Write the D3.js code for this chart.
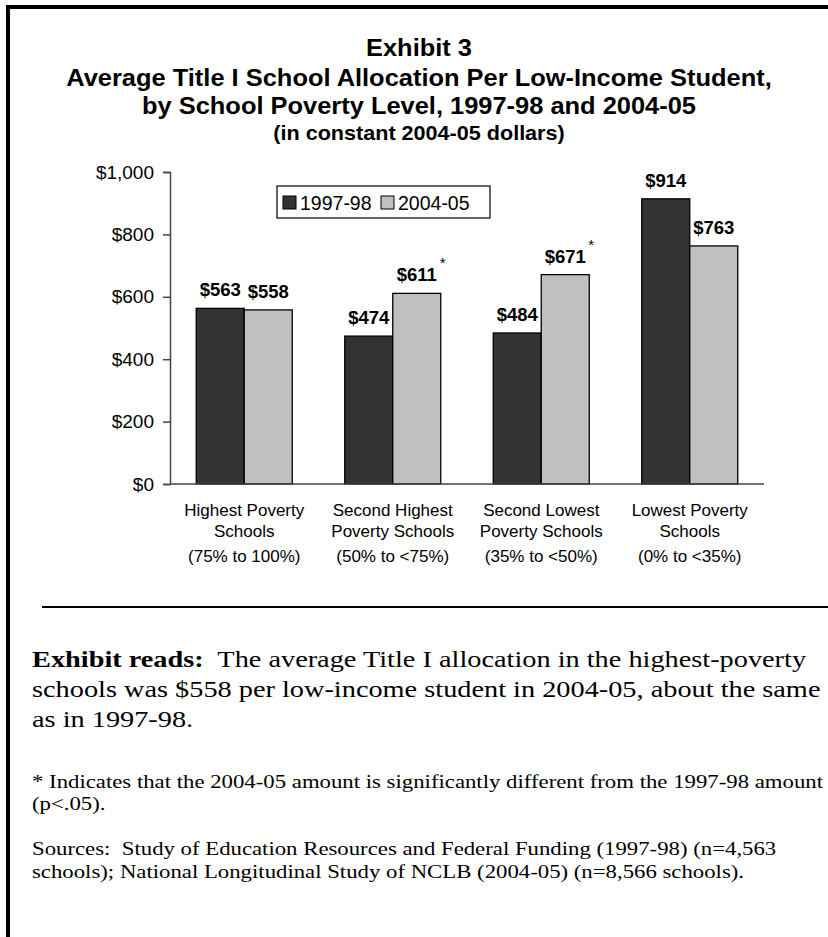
<!DOCTYPE html>
<html><head><meta charset="utf-8">
<script src="https://cdn.jsdelivr.net/npm/d3@7/dist/d3.min.js"></script>
<style>body{margin:0;background:#fff}svg{display:block}</style>
</head><body>
<script>
// ---- data ----
const categories = ["Highest Poverty Schools","Second Highest Poverty Schools","Second Lowest Poverty Schools","Lowest Poverty Schools"];
const categoryLines = [["Highest Poverty","Schools"],["Second Highest","Poverty Schools"],["Second Lowest","Poverty Schools"],["Lowest Poverty","Schools"]];
const categoryRanges = ["(75% to 100%)","(50% to <75%)","(35% to <50%)","(0% to <35%)"];
const seriesNames = ["1997-98","2004-05"];
const values1997 = [563,474,484,914];
const values2004 = [558,611,671,763];
const significant2004 = [false,true,true,false];
const yTickValues = [0,200,400,600,800,1000];
const titleLines = ["Exhibit 3","Average Title I School Allocation Per Low-Income Student,","by School Poverty Level, 1997-98 and 2004-05"];
const subtitle = "(in constant 2004-05 dollars)";
const readsLabel = "Exhibit reads:";
const readsLines = ["The average Title I allocation in the highest-poverty","schools was $558 per low-income student in 2004-05, about the same","as in 1997-98."];
const noteLines = ["* Indicates that the 2004-05 amount is significantly different from the 1997-98 amount","(p<.05)."];
const sourceLines = ["Sources:\u00a0 Study of Education Resources and Federal Funding (1997-98) (n=4,563","schools); National Longitudinal Study of NCLB (2004-05) (n=8,566 schools)."];

const colors = {"1997-98":"#333333","2004-05":"#c0c0c0"};
const W = 828, H = 937;
const sans = "'Liberation Sans', Arial, sans-serif";
const serif = "'Liberation Serif', 'Times New Roman', serif";

const svg = d3.select("body").append("svg").attr("width",W).attr("height",H);
svg.append("rect").attr("width",W).attr("height",H).attr("fill","#fff");

// frame
svg.append("line").attr("x1",8).attr("x2",8).attr("y1",5).attr("y2",H).attr("stroke","#000").attr("stroke-width",4);
svg.append("line").attr("x1",6).attr("x2",W).attr("y1",7).attr("y2",7).attr("stroke","#000").attr("stroke-width",4);

// titles (slightly widened to match the reference letterforms)
const tx = 419;
function titleText(str, yy, size, sx){
  svg.append("g").attr("transform",`translate(${tx},${yy}) scale(${sx},1)`)
    .append("text").attr("x",0).attr("y",0).attr("text-anchor","middle")
    .attr("font-family",sans).attr("font-weight","bold").attr("font-size",size).text(str);
}
titleText(titleLines[0],56,24,1.06);
titleText(titleLines[1],86,24,1.06);
titleText(titleLines[2],114,24,1.06);
titleText(subtitle,140,20,1.08);

// scales
const x0 = d3.scaleBand().domain(categories).range([170,764]).paddingInner(0.3535).paddingOuter(0.3535/2);
const x1 = d3.scaleBand().domain(seriesNames).range([0,x0.bandwidth()]);
const y = d3.scaleLinear().domain([0,1000]).range([484,172]);

// y axis
const yAxis = svg.append("g").attr("transform","translate(170,0)")
  .call(d3.axisLeft(y).tickValues(yTickValues).tickSize(7).tickPadding(9).tickFormat(d=>"$"+d3.format(",")(d)));
yAxis.select(".domain").attr("stroke","#444").attr("stroke-width",1.5);
yAxis.selectAll(".tick line").attr("stroke","#444").attr("stroke-width",1.5);
yAxis.selectAll(".tick text").attr("font-family",sans).attr("font-size",19).attr("fill","#000");

// bars
const rows = categories.map((c,i)=>({cat:c, vals:[{s:seriesNames[0],v:values1997[i],sig:false},{s:seriesNames[1],v:values2004[i],sig:significant2004[i]}]}));
const g = svg.append("g").selectAll("g").data(rows).join("g").attr("transform",d=>`translate(${x0(d.cat)},0)`);
g.selectAll("rect").data(d=>d.vals).join("rect")
  .attr("x",d=>x1(d.s)).attr("y",d=>y(d.v)).attr("width",x1.bandwidth()).attr("height",d=>y(0)-y(d.v))
  .attr("fill",d=>colors[d.s]).attr("stroke","#000").attr("stroke-width",1.3);
g.selectAll("text.val").data(d=>d.vals).join("text").attr("class","val")
  .attr("x",d=>x1(d.s)+x1.bandwidth()/2).attr("y",d=>y(d.v)-12).attr("text-anchor","middle")
  .attr("font-family",sans).attr("font-weight","bold").attr("font-size",18.5).text(d=>"$"+d.v);
g.selectAll("text.sig").data(d=>d.vals.filter(v=>v.sig)).join("text").attr("class","sig")
  .attr("x",d=>x1(d.s)+x1.bandwidth()/2+23).attr("y",d=>y(d.v)-25)
  .attr("font-family",sans).attr("font-size",15).text("*");

// x axis line
svg.append("line").attr("x1",170).attr("x2",764).attr("y1",y(0)).attr("y2",y(0)).attr("stroke","#444").attr("stroke-width",1.5);

// category labels
categories.forEach((c,i)=>{
  const cx = x0(c)+x0.bandwidth()/2;
  const t = svg.append("text").attr("text-anchor","middle").attr("font-family",sans).attr("font-size",17).attr("fill","#000");
  t.append("tspan").attr("x",cx).attr("y",516).text(categoryLines[i][0]);
  t.append("tspan").attr("x",cx).attr("y",537).text(categoryLines[i][1]);
  t.append("tspan").attr("x",cx).attr("y",562).text(categoryRanges[i]);
});

// legend
const lg = svg.append("g");
lg.append("rect").attr("x",277).attr("y",186).attr("width",213).attr("height",32).attr("fill","#fff").attr("stroke","#000").attr("stroke-width",1.2);
const legX = [283,381];
seriesNames.forEach((s,i)=>{
  lg.append("rect").attr("x",legX[i]).attr("y",196).attr("width",13).attr("height",13).attr("fill",colors[s]).attr("stroke","#000").attr("stroke-width",1);
  lg.append("text").attr("x",legX[i]+17).attr("y",209.5).attr("font-family",sans).attr("font-size",19.5).text(s);
});

// separator
svg.append("line").attr("x1",42).attr("x2",W).attr("y1",607).attr("y2",607).attr("stroke","#000").attr("stroke-width",2);

// body text (Garamond-like width: widened serif)
const bodyG = svg.append("g").attr("transform","translate(32,0) scale(1.18,1)");
const body = bodyG.append("text").attr("font-family",serif).attr("font-size",24).attr("fill","#000");
body.append("tspan").attr("x",0).attr("y",667).attr("font-weight","bold").text(readsLabel);
body.append("tspan").text("\u00a0 "+readsLines[0]);
body.append("tspan").attr("x",0).attr("y",697).text(readsLines[1]);
body.append("tspan").attr("x",0).attr("y",727).text(readsLines[2]);

const noteG = svg.append("g").attr("transform","translate(32,0) scale(1.265,1)");
const notes = noteG.append("text").attr("font-family",serif).attr("font-size",18).attr("fill","#000");
notes.append("tspan").attr("x",0).attr("y",788).text(noteLines[0]);
notes.append("tspan").attr("x",0).attr("y",810).text(noteLines[1]);
const src = noteG.append("text").attr("font-family",serif).attr("font-size",18).attr("fill","#000");
src.append("tspan").attr("x",0).attr("y",855).text(sourceLines[0]);
src.append("tspan").attr("x",0).attr("y",878).text(sourceLines[1]);
</script>
</body></html>
